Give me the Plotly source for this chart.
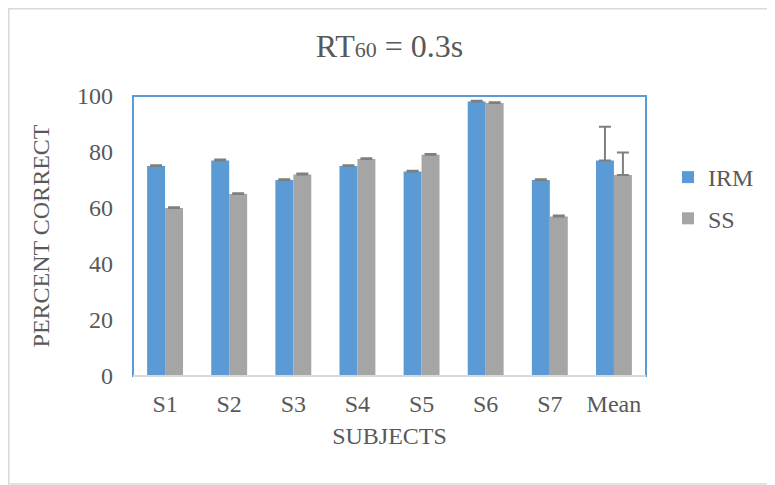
import plotly.graph_objects as go

categories = ["S1", "S2", "S3", "S4", "S5", "S6", "S7", "Mean"]
irm_values = [75, 77, 70, 75, 73, 98, 70, 77]
ss_values = [60, 65, 72, 77.5, 79, 97.5, 57, 71.8]
irm_err = [0.3, 0.3, 0.3, 0.3, 0.3, 0.3, 0.3, 12]
ss_err = [0.3, 0.3, 0.3, 0.3, 0.3, 0.3, 0.3, 8]
y_ticks = [0, 20, 40, 60, 80, 100]

FONT = "Liberation Serif, Times New Roman, serif"
TXT = "#595959"

fig = go.Figure()
fig.add_trace(go.Bar(
    x=categories, y=irm_values, name="IRM", marker_color="#5B9BD5",
    marker_line_width=0, legendgroup="a",
    error_y=dict(type="data", array=irm_err, arrayminus=[0]*len(irm_err), symmetric=False,
                 color="#7F7F7F", thickness=2, width=6)))
fig.add_trace(go.Bar(
    x=categories, y=ss_values, name="SS", marker_color="#A5A5A5",
    marker_line_width=0, legendgroup="b",
    error_y=dict(type="data", array=ss_err, arrayminus=[0]*len(ss_err), symmetric=False,
                 color="#7F7F7F", thickness=2, width=6)))

# page body has an 8px margin, so figure coords = screen - 8
OFF = 8
W, H = 775, 485
L, T = 133 - OFF, 96 - OFF
pw, ph = 513, 280
R = W - L - pw
B = H - T - ph

def px2x(px):
    return (px - L) / pw

def py2y(py):
    return (T + ph - py) / ph

fig.update_layout(
    width=W, height=H,
    margin=dict(l=L, r=R, t=T, b=B),
    paper_bgcolor="white", plot_bgcolor="white",
    font=dict(family=FONT, size=24, color=TXT),
    barmode="group", bargap=0.44, bargroupgap=0,
    title=dict(text="RT<span style='font-size:22px'>60</span> = 0.3s",
               x=0.5, xref="paper", xanchor="center",
               y=1 - 38 / H, yref="container", yanchor="middle",
               font=dict(family=FONT, size=32, color=TXT)),
    legend=dict(x=px2x(660), y=py2y(147), xanchor="left", yanchor="top",
                font=dict(family=FONT, size=24, color=TXT),
                tracegroupgap=7, itemwidth=30, bgcolor="rgba(0,0,0,0)"),
    xaxis=dict(title=dict(text="SUBJECTS", font=dict(family=FONT, size=24, color=TXT), standoff=11),
               showgrid=False, showline=False, ticks="", ticklabelstandoff=11,
               tickfont=dict(size=24, color=TXT)),
    yaxis=dict(title=dict(text="PERCENT CORRECT", font=dict(family=FONT, size=24, color=TXT), standoff=20),
               range=[0, 100], tickvals=y_ticks, showgrid=False, zeroline=False,
               showline=False, ticks="", ticklabelstandoff=19,
               tickfont=dict(size=24, color=TXT)),
    shapes=[
        dict(type="rect", xref="paper", yref="paper", x0=0, x1=1, y0=0, y1=1,
             line=dict(color="#5B9BD5", width=2), layer="above"),
        dict(type="line", xref="paper", yref="paper", x0=0, x1=1, y0=0, y1=0,
             line=dict(color="#D9D9D9", width=2), layer="above"),
        dict(type="rect", xref="paper", yref="paper",
             x0=px2x(0.75), x1=px2x(766), y0=py2y(476), y1=py2y(0.75),
             line=dict(color="#D9D9D9", width=1.5), layer="below"),
    ],
)

fig.write_html("out.html")
